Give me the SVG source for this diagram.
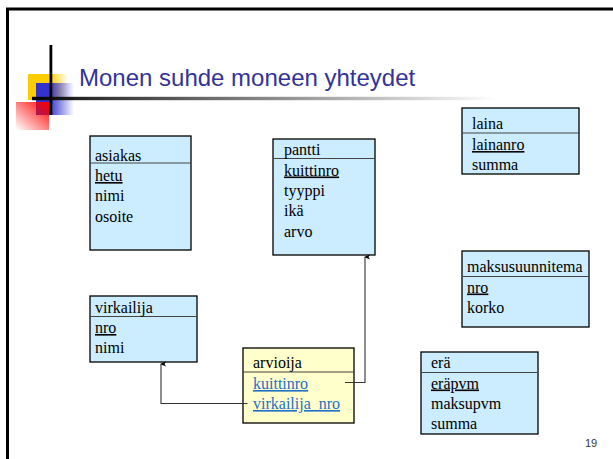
<svg xmlns="http://www.w3.org/2000/svg" width="613" height="459" viewBox="0 0 613 459">
<style>
.box{fill:#CCECFF;stroke:#000;stroke-width:1.3}
.ybox{fill:#FFFFCC;stroke:#000;stroke-width:1.3}
.div{stroke:#444;stroke-width:1.2}
text.t{font-family:'Liberation Serif', 'DejaVu Serif', serif;font-size:16px;fill:#000}
.u{text-decoration:underline}
text.lnk{fill:#1E6FC8;text-decoration:underline}
.con{fill:none;stroke:#333;stroke-width:1.1}
</style>
<defs>
<linearGradient id="hl" x1="0" x2="1" y1="0" y2="0"><stop offset="0" stop-color="#000"/><stop offset="0.15" stop-color="#333"/><stop offset="1" stop-color="#fff"/></linearGradient>
<linearGradient id="yg" x1="0" x2="1" y1="0" y2="0"><stop offset="0.55" stop-color="#FFCC00"/><stop offset="1" stop-color="#FFCC00" stop-opacity="0"/></linearGradient>
<linearGradient id="bg" x1="0" x2="1" y1="0" y2="0"><stop offset="0.35" stop-color="#3333CC"/><stop offset="1" stop-color="#3333CC" stop-opacity="0"/></linearGradient>
<linearGradient id="rg" x1="1" x2="0" y1="0" y2="1"><stop offset="0" stop-color="#FF0000"/><stop offset="1" stop-color="#FF0000" stop-opacity="0"/></linearGradient>
<marker id="ah" markerWidth="6" markerHeight="6" refX="3" refY="1" orient="auto-start-reverse" markerUnits="userSpaceOnUse" viewBox="0 0 6 6"><path d="M3,0 L5.5,6 L3,4.5 L0.5,6 Z" fill="#000"/></marker>
</defs>
<rect width="613" height="459" fill="#fff"/>
<g id="frame">
<path d="M7.5,459 V9 H613" fill="none" stroke="#000" stroke-width="3"/>
</g>
<g id="decor">
<rect x="28" y="74" width="40" height="26" fill="url(#yg)"/>
<rect x="36" y="83" width="38" height="32" fill="url(#bg)"/>
<rect x="16" y="102" width="33" height="28" fill="url(#rg)"/>
<rect x="32" y="96.8" width="465" height="3.4" fill="url(#hl)"/>
<rect x="49.5" y="45" width="2.8" height="70" fill="#000"/>
</g>
<text x="79" y="86" font-family="Liberation Sans, Arial, sans-serif" font-size="24" fill="#333399">Monen suhde moneen yhteydet</text>
<g font-family="Liberation Serif, serif" font-size="16">
<g id="asiakas">
<rect class="box" x="90" y="136" width="101" height="114"/>
<line class="div" x1="90" y1="163" x2="191" y2="163"/>
<text class="t" x="95" y="160.5">asiakas</text>
<text class="t u" x="95" y="181">hetu</text>
<text class="t" x="95" y="201">nimi</text>
<text class="t" x="95" y="221.5">osoite</text>
</g>
<g id="pantti">
<rect class="box" x="273" y="139" width="102" height="116"/>
<line class="div" x1="273" y1="158.5" x2="375" y2="158.5"/>
<text class="t" x="284" y="155">pantti</text>
<text class="t u" x="284" y="175.5">kuittinro</text>
<text class="t" x="284" y="196">tyyppi</text>
<text class="t" x="284" y="216">ikä</text>
<text class="t" x="284" y="237">arvo</text>
</g>
<g id="laina">
<rect class="box" x="462" y="108" width="117" height="66"/>
<line class="div" x1="462" y1="133" x2="579" y2="133"/>
<text class="t" x="472" y="129">laina</text>
<text class="t u" x="472" y="150">lainanro</text>
<text class="t" x="472" y="170">summa</text>
</g>
<g id="maksusuunnitema">
<rect class="box" x="462" y="251" width="127" height="76"/>
<line class="div" x1="462" y1="276.5" x2="589" y2="276.5"/>
<text class="t" x="467" y="272">maksusuunnitema</text>
<text class="t u" x="467" y="292.5">nro</text>
<text class="t" x="467" y="312.5">korko</text>
</g>
<g id="virkailija">
<rect class="box" x="90" y="296" width="107" height="66"/>
<line class="div" x1="90" y1="316.5" x2="197" y2="316.5"/>
<text class="t" x="95" y="313">virkailija</text>
<text class="t u" x="95" y="333">nro</text>
<text class="t" x="95" y="353">nimi</text>
</g>
<g id="arvioija">
<rect class="ybox" x="243" y="348" width="111" height="75"/>
<line class="div" x1="243" y1="372" x2="354" y2="372"/>
<text class="t" x="253" y="368">arvioija</text>
<text class="t lnk" x="253" y="389">kuittinro</text>
<text class="t lnk" x="253" y="409">virkailija_nro</text>
</g>
<g id="era">
<rect class="box" x="421" y="352" width="117" height="82"/>
<line class="div" x1="421" y1="372.5" x2="538" y2="372.5"/>
<text class="t" x="431" y="368">erä</text>
<text class="t u" x="431" y="388.5">eräpvm</text>
<text class="t" x="431" y="409">maksupvm</text>
<text class="t" x="431" y="429">summa</text>
</g>
</g>
<g id="connectors">
<path class="con" d="M345,382.5 H365 V257" marker-end="url(#ah)"/>
<path class="con" d="M247.5,403.5 H161 V364" marker-end="url(#ah)"/>
</g>
<text x="585" y="447" font-family="Liberation Sans, Arial, sans-serif" font-size="11" fill="#333">19</text>
</svg>
